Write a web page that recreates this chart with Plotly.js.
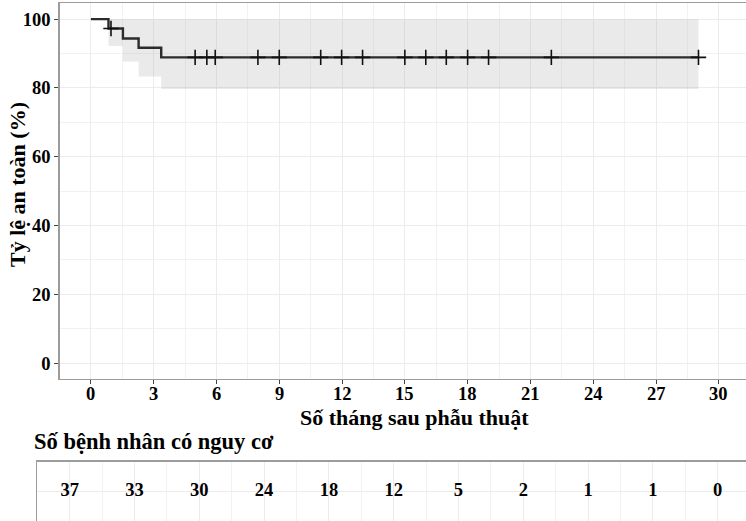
<!DOCTYPE html>
<html>
<head>
<meta charset="utf-8">
<script src="https://cdn.plot.ly/plotly-3.0.1.min.js"></script>
<style>html,body{margin:0;padding:0;background:#fff;}#chart{width:746px;height:521px;}</style>
</head>
<body>
<div id="chart"></div>
<script>
// Kaplan-Meier step data (months, %)
const stepTimes = [0, 0.84, 1.53, 2.28, 3.36, 29.03];
const survival = [100, 97.3, 94.4, 91.7, 88.9, 88.9];
const ciUpper = [100, 100, 100, 100, 100, 100];
const ciLower = [100, 92.2, 87.7, 83.3, 79.7, 79.7];
// censor marks
const censorTimes = [0.96, 4.98, 5.54, 5.94, 7.98, 9.0, 10.98, 11.98, 12.98, 15.0, 16.0, 16.98, 18.0, 19.0, 22.0, 29.03];
const censorSurv = [97.3, 88.9, 88.9, 88.9, 88.9, 88.9, 88.9, 88.9, 88.9, 88.9, 88.9, 88.9, 88.9, 88.9, 88.9, 88.9];
// risk table
const riskTimes = [0, 3, 6, 9, 12, 15, 18, 21, 24, 27, 30];
const riskCounts = [37, 33, 30, 24, 18, 12, 5, 2, 1, 1, 0];
const xTicks = [0, 3, 6, 9, 12, 15, 18, 21, 24, 27, 30];
const yTicks = [0, 20, 40, 60, 80, 100];

const W = 746, H = 521;
const serif = "Liberation Serif, Times New Roman, serif";
const grid = '#ececec';
const border = '#9c9c9c';
const xMinor = [1.5, 4.5, 7.5, 10.5, 13.5, 16.5, 19.5, 22.5, 25.5, 28.5];

const traces = [
  {x: stepTimes, y: ciUpper, mode: 'lines', line: {shape: 'hv', width: 0, color: 'rgba(0,0,0,0)'}, hoverinfo: 'skip', xaxis: 'x', yaxis: 'y'},
  {x: stepTimes, y: ciLower, mode: 'lines', line: {shape: 'hv', width: 0, color: 'rgba(0,0,0,0)'}, fill: 'tonexty', fillcolor: 'rgba(160,160,160,0.22)', hoverinfo: 'skip', xaxis: 'x', yaxis: 'y'},
  {x: stepTimes, y: survival, mode: 'lines', line: {shape: 'hv', width: 2.4, color: '#2b2b2b'}, xaxis: 'x', yaxis: 'y'},
  {x: censorTimes, y: censorSurv, mode: 'markers', marker: {symbol: 'cross-thin', size: 11, line: {width: 1.6, color: '#111'}}, xaxis: 'x', yaxis: 'y'},
  {x: riskTimes, y: riskTimes.map(() => 1), mode: 'text', text: riskCounts.map(String), textposition: 'middle center',
   textfont: {family: serif, size: 18.5, color: '#000', weight: 'bold'}, xaxis: 'x2', yaxis: 'y2'}
];

const px = v => v / W;
const py = v => 1 - v / H;

const xTickAnnotations = xTicks.map(t => ({
  text: String(t), xref: 'x', yref: 'paper', x: t, y: py(393.5), xanchor: 'center', yanchor: 'middle', showarrow: false,
  font: {family: serif, size: 18.5, color: '#000', weight: 'bold'}
}));

const layout = {
  width: W, height: H,
  margin: {l: 0, r: 0, t: 0, b: 0},
  paper_bgcolor: '#fff', plot_bgcolor: '#fff',
  showlegend: false,
  xaxis: {
    domain: [px(59.5), 1], range: [-1.5, 31.3],
    tickvals: xTicks, showticklabels: false,
    ticks: 'outside', ticklen: 4, tickcolor: '#444', tickwidth: 1,
    showgrid: true, gridcolor: grid, gridwidth: 1,
    minor: {tickvals: xMinor, showgrid: true, gridcolor: grid, gridwidth: 0.7, ticks: ''},
    showline: true, linecolor: border, linewidth: 1.3, mirror: true,
    zeroline: false, anchor: 'y'
  },
  yaxis: {
    domain: [py(379), py(3)], range: [-4.6, 104.7],
    tickvals: yTicks, ticktext: yTicks.map(String),
    tickfont: {family: serif, size: 18.5, color: '#000', weight: 'bold'},
    ticks: 'outside', ticklen: 4, tickcolor: '#444', tickwidth: 1,
    showgrid: true, gridcolor: grid, gridwidth: 1,
    minor: {tickvals: [10, 30, 50, 70, 90], showgrid: true, gridcolor: grid, gridwidth: 0.7, ticks: ''},
    showline: true, linecolor: border, linewidth: 1.3,
    zeroline: false, anchor: 'x'
  },
  xaxis2: {
    domain: [px(37.3), 1], range: [-1.5, 31.31],
    tickvals: xTicks, showticklabels: false, ticks: '',
    showgrid: true, gridcolor: grid, gridwidth: 1,
    minor: {tickvals: xMinor, showgrid: true, gridcolor: grid, gridwidth: 0.7, ticks: ''},
    showline: true, linecolor: border, linewidth: 1.3, side: 'top',
    zeroline: false, anchor: 'y2'
  },
  yaxis2: {
    domain: [0, py(461.7)], range: [0, 2],
    tickvals: [1], showticklabels: false, ticks: '',
    showgrid: true, gridcolor: grid, gridwidth: 1,
    showline: true, linecolor: border, linewidth: 1.3,
    zeroline: false, anchor: 'x2'
  },
  annotations: xTickAnnotations.concat([
    {text: 'Tỷ lệ an toàn (%)', textangle: -90, xref: 'paper', yref: 'paper', x: px(17), y: py(185), xanchor: 'center', yanchor: 'middle', showarrow: false,
     font: {family: serif, size: 22, color: '#000', weight: 'bold'}},
    {text: 'Số tháng sau phẫu thuật', xref: 'paper', yref: 'paper', x: px(414), y: py(417), xanchor: 'center', yanchor: 'middle', showarrow: false,
     font: {family: serif, size: 22, color: '#000', weight: 'bold'}},
    {text: 'Số bệnh nhân có nguy cơ', xref: 'paper', yref: 'paper', x: px(32), y: py(441), xanchor: 'left', yanchor: 'middle', showarrow: false,
     font: {family: serif, size: 22.5, color: '#000', weight: 'bold'}}
  ])
};

Plotly.newPlot('chart', traces, layout, {displayModeBar: false, staticPlot: true});
</script>
</body>
</html>
